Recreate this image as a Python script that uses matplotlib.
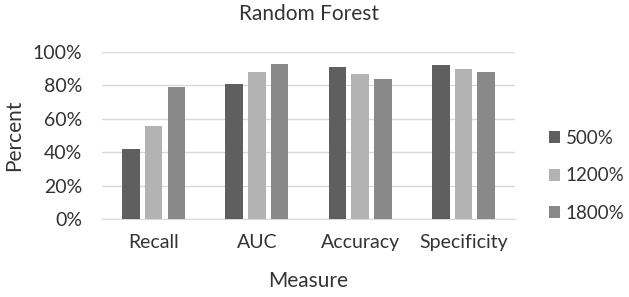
import matplotlib

matplotlib.use("Agg")
import matplotlib.pyplot as plt
import numpy as np
from matplotlib.ticker import PercentFormatter

MEASURES = ["Recall", "AUC", "Accuracy", "Specificity"]
SERIES = ["500%", "1200%", "1800%"]
VALUES = {
    "500%": [0.42, 0.81, 0.91, 0.92],
    "1200%": [0.56, 0.88, 0.87, 0.90],
    "1800%": [0.79, 0.93, 0.84, 0.88],
}
COLORS = {"500%": "#5f5f5f", "1200%": "#b3b3b3", "1800%": "#898989"}
TEXT = "#333333"

plt.rcParams["font.family"] = ["Lato", "DejaVu Sans"]

fig = plt.figure(figsize=(6.29, 2.97), dpi=100)
ax = fig.add_axes([0.162, 0.262, 0.657, 0.563])

x = np.arange(len(MEASURES))
pitch = 0.22
width = 0.17
for i, name in enumerate(SERIES):
    ax.bar(x + (i - 1) * pitch, VALUES[name], width=width, color=COLORS[name], label=name, zorder=3)

ax.set_xlim(-0.5, len(MEASURES) - 0.5)
ax.set_ylim(0, 1.0)
ax.set_yticks(np.linspace(0, 1, 6))
ax.yaxis.set_major_formatter(PercentFormatter(1.0, decimals=0))
ax.set_xticks(x)
ax.set_xticklabels(MEASURES)
ax.tick_params(axis="y", length=0, labelsize=14, colors=TEXT, pad=14)
ax.tick_params(axis="x", length=0, labelsize=14, colors=TEXT, pad=11)
ax.grid(axis="y", color="#d9d9d9", linewidth=1.0, zorder=0)
for side in ["top", "right", "left"]:
    ax.spines[side].set_visible(False)
ax.spines["bottom"].set_color("#d9d9d9")

ax.set_title("Random Forest", fontsize=15, color=TEXT, pad=23)
ax.set_xlabel("Measure", fontsize=15, color=TEXT, labelpad=14)
ax.set_ylabel("Percent", fontsize=15, color=TEXT, labelpad=6)

ax.legend(
    loc="center left",
    bbox_to_anchor=(1.04, 0.26),
    frameon=False,
    fontsize=13.5,
    labelcolor=TEXT,
    handlelength=0.6,
    handleheight=0.6,
    handletextpad=0.3,
    labelspacing=1.1,
)

fig.savefig("out.png", dpi=100)
